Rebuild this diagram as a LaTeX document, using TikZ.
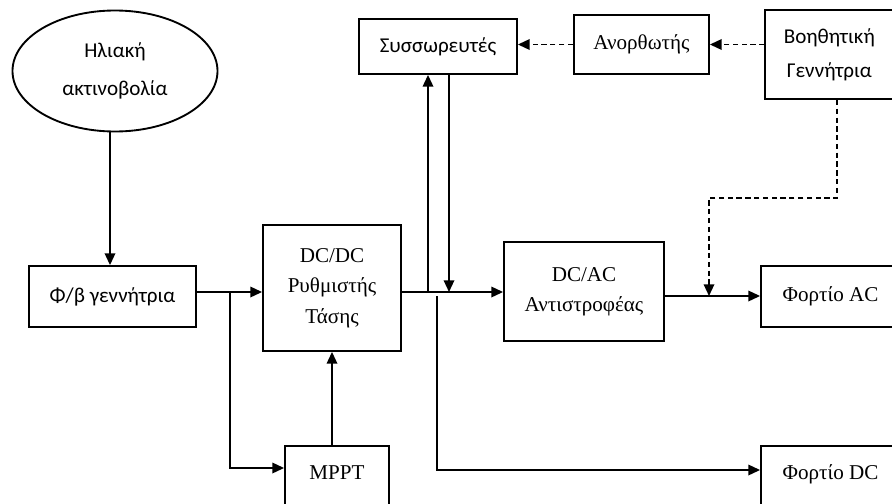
\documentclass[tikz,border=0pt]{standalone}
\usepackage{fontspec}
\setmainfont{Liberation Serif}
\setsansfont{Carlito}
\usetikzlibrary{positioning, arrows.meta, shapes.geometric, calc}

\begin{document}
\begin{tikzpicture}[x=0.03cm, y=-0.03cm, line width=1.4pt,
  blk/.style={draw,line width=1.6pt,rectangle,align=center,inner sep=2pt,
              font=\fontsize{18}{26}\selectfont},
  sblk/.style={blk,font=\sffamily\fontsize{18}{29}\selectfont},
  arr/.style={-{Triangle[length=10pt,width=9pt]}},
  aux/.style={dash pattern=on 4.5pt off 3pt}]
  \useasboundingbox (0,0) rectangle (892,504);
  \clip (0,0) rectangle (892,504);
  % sources on the left
  \node[sblk, ellipse, minimum width=6.15cm, minimum height=3.63cm,
        font=\sffamily\fontsize{18}{32}\selectfont] (sun) at (115,71) {Ηλιακή\\ακτινοβολία};
  \node[sblk, minimum width=5.01cm, minimum height=1.83cm] (pv) at (112.5,296.5) {Φ/β γεννήτρια};
  \node[blk, minimum width=4.14cm, minimum height=3.78cm] (dcdc) at (332,288) {DC/DC\\Ρυθμιστής\\Τάσης};
  \node[blk, minimum width=3.12cm, minimum height=1.92cm, text depth=10pt] (mppt) at (337,478) {MPPT};
  % storage and backup along the top
  \node[sblk, minimum width=4.74cm, minimum height=1.65cm] (batt) at (438,46.5) {Συσσωρευτές};
  \node[blk, minimum width=4.05cm, minimum height=1.77cm] (rect) at (641.5,44.5) {Ανορθωτής};
  \node[sblk, minimum width=3.84cm, minimum height=2.67cm, xshift=-0.2cm] (gen) at (836,54.5) {Βοηθητική\\Γεννήτρια};
  % inverter and loads
  \node[blk, minimum width=4.8cm, minimum height=2.97cm] (dcac) at (584,291.5) {DC/AC\\Αντιστροφέας};
  \node[blk, minimum width=4.17cm, minimum height=1.83cm] (acload) at (830.5,296.5) {Φορτίο AC};
  \node[blk, minimum width=4.17cm, minimum height=1.92cm, text depth=10pt] (dcload) at (830.5,478) {Φορτίο DC};

  \coordinate (j1) at (230,292);
  \coordinate (m1) at (230,468);
  \coordinate (j2) at (428,292);
  \coordinate (j3) at (437,296);
  \coordinate (j4) at (449,292);
  \coordinate (d1) at (437,470);
  \coordinate (a1) at (709,296);
  \coordinate (g1) at (837,198);

  \draw[arr] (sun.south -| 110,0) -- (pv.north -| 110,0);
  \draw[arr] (pv.east |- j1) -- (dcdc.west |- j1);
  \draw[arr] (j1) -- (m1) -- (mppt.west |- m1);
  \draw[arr] (dcdc.south |- mppt.north) -- (dcdc.south);
  \draw[arr] (dcdc.east |- j1) -- (dcac.west |- j1);
  \draw[arr] (j2) -- (j2 |- batt.south);
  \draw[arr] (j4 |- batt.south) -- (j4);
  \draw[arr] (j3) -- (d1) -- (dcload.west |- d1);
  \draw[arr] (dcac.east |- a1) -- (acload.west |- a1);
  % backup generator (dashed)
  \draw[arr, aux] (g1 |- gen.south) -- (g1) -| (a1);
  \draw[arr, aux] (gen.west |- rect.east) -- (rect.east);
  \draw[arr, aux] (rect.west) -- (rect.west -| batt.east);
\end{tikzpicture}
\end{document}
